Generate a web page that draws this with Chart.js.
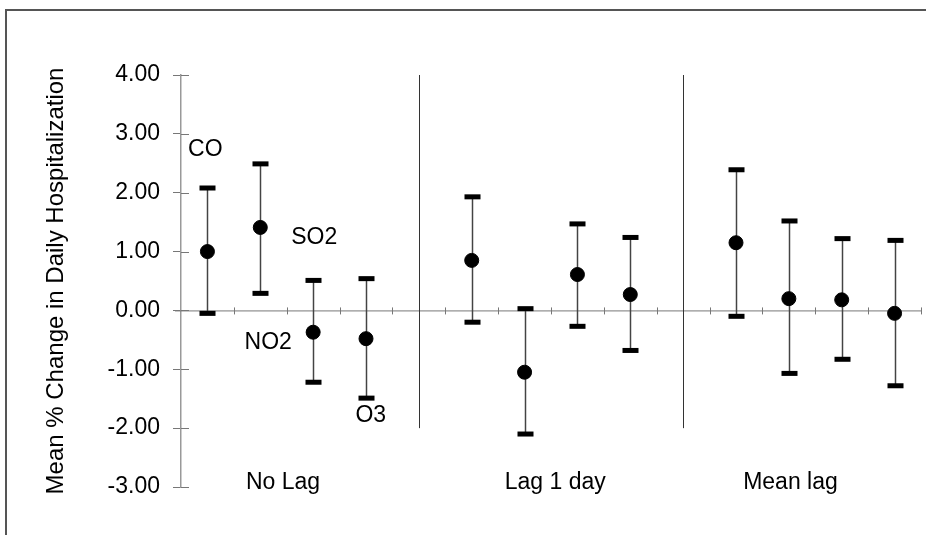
<!DOCTYPE html>
<html lang="en">
  <head>
    <meta charset="UTF-8" />
    <script src="https://cdn.jsdelivr.net/npm/chart.js"></script>
    <title>Mean % Change in Daily Hospitalization</title>
    <style>
      html, body { margin: 0; padding: 0; background: #fff; }
      #wrap { width: 929px; height: 535px; position: relative; }
    </style>
  </head>
  <body>
    <div id="wrap">
      <canvas id="myChart" width="929" height="535"></canvas>
    </div>
    <script>
      // pollutants within each lag group
      const pollutants = ['CO', 'SO2', 'NO2', 'O3'];
      const groups = ['No Lag', 'Lag 1 day', 'Mean lag'];

      // mean % change and confidence limits, group by group
      const meanChange = [1.00, 1.41, -0.37, -0.48, 0.85, -1.05, 0.61, 0.27, 1.15, 0.20, 0.18, -0.05];
      const lowerCI = [-0.05, 0.29, -1.22, -1.49, -0.20, -2.10, -0.27, -0.68, -0.10, -1.07, -0.83, -1.28];
      const upperCI = [2.08, 2.49, 0.51, 0.54, 1.93, 0.03, 1.47, 1.24, 2.39, 1.52, 1.22, 1.19];

      const yTicks = [4, 3, 2, 1, 0, -1, -2, -3];

      // where the text labels sit, in axis units
      const pollutantLabelPos = [
        { x: -0.04, y: 2.73 },
        { x: 2.02, y: 1.24 },
        { x: 1.15, y: -0.54 },
        { x: 3.09, y: -1.78 }
      ];
      const groupLabelPos = [1.43, 6.58, 11.03];
      const separators = [4, 9];

      // x position: 5 slots per group (4 points + gap)
      const points = meanChange.map((v, i) => ({ x: Math.floor(i / 4) * 5 + (i % 4), y: v }));

      const FONT = '"Liberation Sans", Arial, sans-serif';

      const overlay = {
        id: 'overlay',
        beforeDatasetsDraw(chart) {
          const { ctx, chartArea } = chart;
          const xs = chart.scales.x, ys = chart.scales.y;
          ctx.save();

          // zero line with half-step ticks
          const y0 = ys.getPixelForValue(0);
          ctx.strokeStyle = '#777';
          ctx.lineWidth = 1;
          ctx.beginPath();
          ctx.moveTo(chartArea.left - 6, y0 + 0.5);
          ctx.lineTo(chartArea.right, y0 + 0.5);
          for (let k = 0.5; k <= 13.5; k += 1) {
            const px = Math.round(xs.getPixelForValue(k)) + 0.5;
            ctx.moveTo(px, y0 - 3);
            ctx.lineTo(px, y0 + 4);
          }
          // right-hand stubs of the y ticks
          yTicks.forEach(t => {
            const py = Math.round(ys.getPixelForValue(t)) + 0.5;
            ctx.moveTo(chartArea.left, py);
            ctx.lineTo(chartArea.left + 8, py);
          });
          ctx.stroke();

          // group separators
          ctx.strokeStyle = '#333';
          ctx.beginPath();
          separators.forEach(s => {
            const px = Math.round(xs.getPixelForValue(s)) + 0.5;
            ctx.moveTo(px, ys.getPixelForValue(4));
            ctx.lineTo(px, ys.getPixelForValue(-2));
          });
          ctx.stroke();

          // error bars with caps
          points.forEach((p, i) => {
            const px = Math.round(xs.getPixelForValue(p.x)) + 0.5;
            const top = ys.getPixelForValue(upperCI[i]);
            const bot = ys.getPixelForValue(lowerCI[i]);
            ctx.strokeStyle = '#444';
            ctx.lineWidth = 1.5;
            ctx.beginPath();
            ctx.moveTo(px, top);
            ctx.lineTo(px, bot);
            ctx.stroke();
            ctx.fillStyle = '#000';
            ctx.fillRect(px - 8, top - 2.5, 16, 5);
            ctx.fillRect(px - 8, bot - 2.5, 16, 5);
          });
          ctx.restore();
        },
        afterDraw(chart) {
          const { ctx } = chart;
          const xs = chart.scales.x, ys = chart.scales.y;
          ctx.save();
          ctx.fillStyle = '#000';
          ctx.font = '23px ' + FONT;
          ctx.textAlign = 'center';
          ctx.textBaseline = 'middle';
          pollutants.forEach((name, i) => {
            const pos = pollutantLabelPos[i];
            ctx.fillText(name, xs.getPixelForValue(pos.x), ys.getPixelForValue(pos.y));
          });
          groups.forEach((g, i) => {
            ctx.fillText(g, xs.getPixelForValue(groupLabelPos[i]), ys.getPixelForValue(-2.93));
          });

          // frame lines of the figure
          ctx.strokeStyle = '#555';
          ctx.lineWidth = 2;
          ctx.beginPath();
          ctx.moveTo(6, 535);
          ctx.lineTo(6, 10);
          ctx.lineTo(926, 10);
          ctx.stroke();
          ctx.restore();
        }
      };

      const ctx = document.getElementById('myChart').getContext('2d');
      const myChart = new Chart(ctx, {
        type: 'scatter',
        data: {
          datasets: [{
            label: 'Mean % change',
            data: points,
            backgroundColor: '#000',
            borderColor: '#000',
            pointRadius: 7,
            pointHoverRadius: 7
          }]
        },
        options: {
          responsive: false,
          animation: false,
          layout: { padding: { top: 75, bottom: 48, right: 3, left: 0 } },
          plugins: { legend: { display: false }, tooltip: { enabled: false } },
          scales: {
            x: { type: 'linear', display: false, min: -0.5, max: 13.5 },
            y: {
              min: -3,
              max: 4,
              afterFit(scale) { scale.width = 181; },
              afterBuildTicks(scale) { scale.ticks = yTicks.slice().reverse().map(v => ({ value: v })); },
              ticks: {
                color: '#000',
                font: { family: FONT, size: 23 },
                padding: 13,
                callback: v => Number(v).toFixed(2)
              },
              grid: { drawOnChartArea: false, tickLength: 8, color: '#777' },
              border: { color: '#999', width: 1.5 },
              title: {
                display: true,
                text: 'Mean % Change in Daily Hospitalization',
                color: '#000',
                font: { family: FONT, size: 24 },
                padding: { top: 42, bottom: 0 }
              }
            }
          }
        },
        plugins: [overlay]
      });
    </script>
  </body>
</html>
